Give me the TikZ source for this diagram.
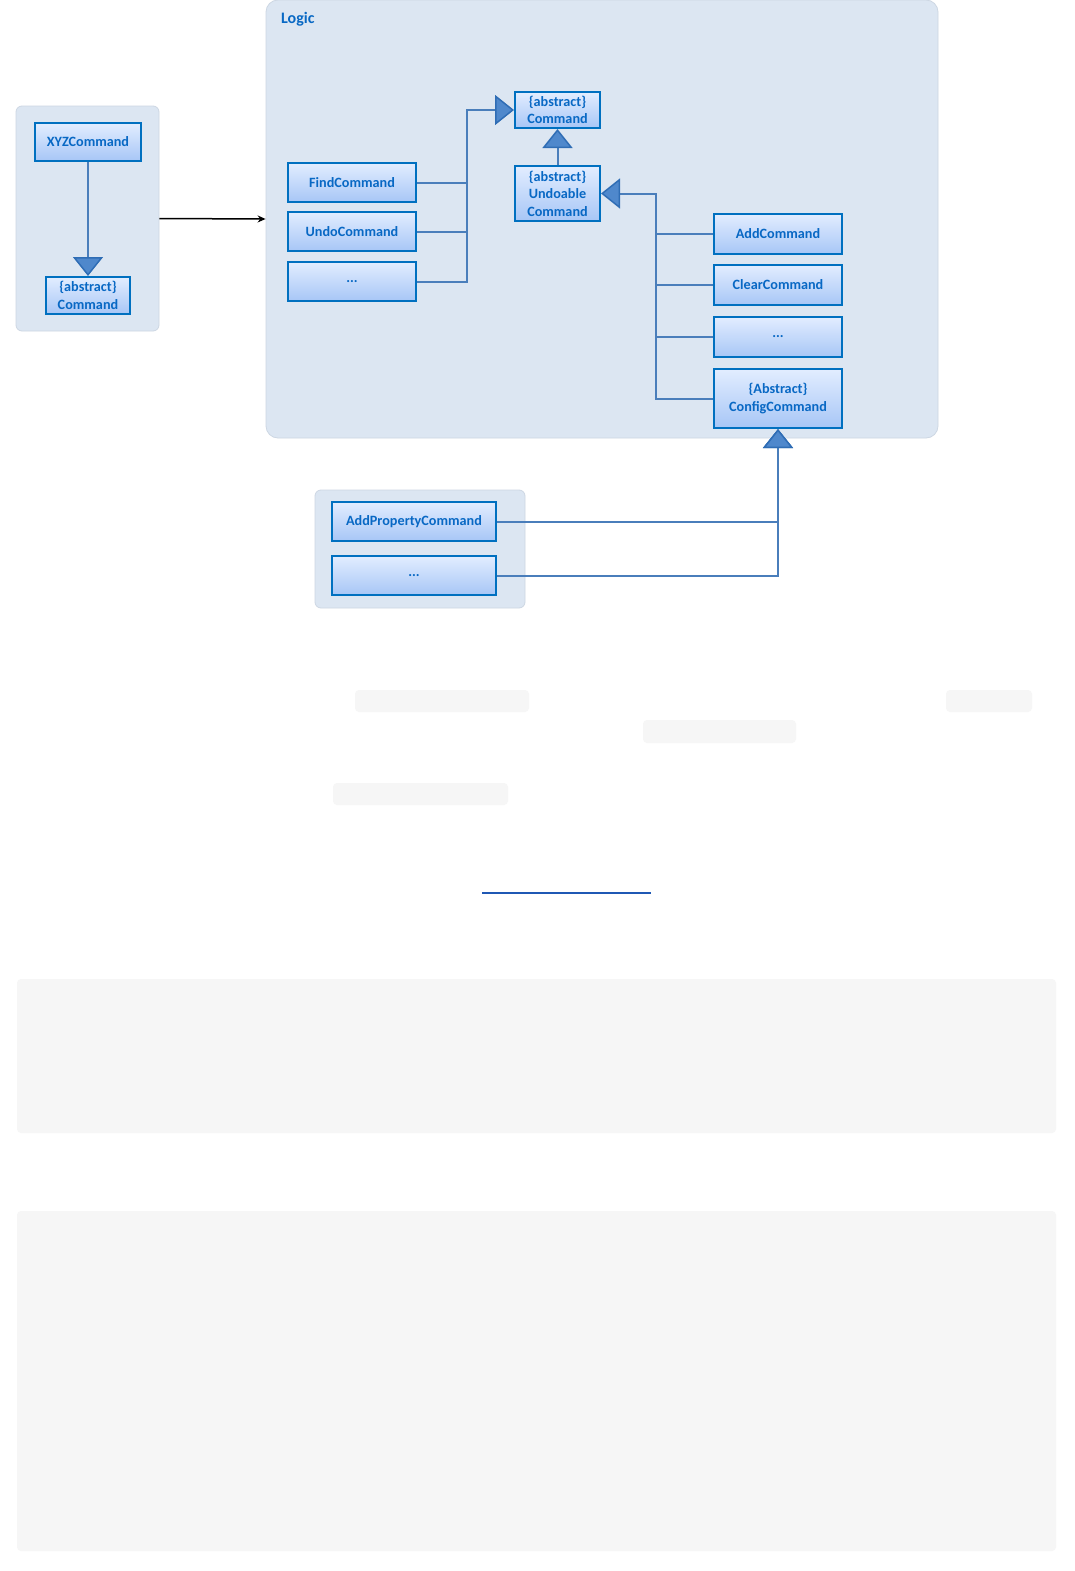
\documentclass[tikz,border=0pt]{standalone}
\usepackage{fontspec}
\setmainfont{Carlito}
\usetikzlibrary{arrows.meta}
\definecolor{pkgfill}{HTML}{DCE6F2}
\definecolor{pkgline}{HTML}{CDD7E3}
\definecolor{boxline}{HTML}{0070C0}
\definecolor{boxtop}{HTML}{E2EDFF}
\definecolor{boxbot}{HTML}{A7C6F6}
\definecolor{txtblue}{HTML}{0868C4}
\definecolor{conn}{HTML}{4A7EBB}
\definecolor{trifill}{HTML}{4F88CC}
\definecolor{triline}{HTML}{2F6DB5}
\definecolor{graybox}{HTML}{F6F6F6}
\definecolor{ulblue}{HTML}{1F58B4}
\tikzset{
  pkg/.style={draw=pkgline, line width=0.8pt, fill=pkgfill, rounded corners=6pt, inner sep=0pt},
  cls/.style={draw=boxline, line width=2pt, top color=boxtop, bottom color=boxbot,
    text=txtblue, font={\fontsize{14.2}{17.5}\selectfont\bfseries}, align=center, inner sep=0pt},
  link/.style={draw=conn, line width=2pt},
  inh/.style={link, -{Triangle[length=19pt, width=30pt, fill=trifill, color=triline, line width=1.5pt]}},
  gbox/.style={fill=graybox, rounded corners=4pt},
}
\begin{document}
\begin{tikzpicture}[x=1pt, y=-1pt]
\path[use as bounding box, fill=white] (0,0) rectangle (1075,1571);

% packages
\node[pkg, minimum width=143pt, minimum height=225pt] (lpkg) at (87.5,218.5) {};
\node[pkg, rounded corners=12pt, minimum width=672pt, minimum height=438pt] (logic) at (602,219) {};
\node[pkg, minimum width=210pt, minimum height=118pt] (bpkg) at (420,549) {};
\node[anchor=west, text=txtblue, font={\fontsize{16}{19}\selectfont\bfseries}, inner sep=0pt] (logiclbl) at (281,19) {Logic};

% left package
\node[cls, minimum width=106pt, minimum height=38pt] (xyz) at (88,142) {XYZCommand};
\node[cls, minimum width=84pt, minimum height=37pt] (lcmd) at (88,295.5) {\{abstract\}\\Command};

% logic package
\node[cls, minimum width=85pt, minimum height=36pt] (cmd) at (557.5,110) {\{abstract\}\\Command};
\node[cls, minimum width=85pt, minimum height=55pt] (ucmd) at (557.5,193.5) {\{abstract\}\\Undoable\\Command};
\node[cls, minimum width=128pt, minimum height=39pt] (find) at (352,182.5) {FindCommand};
\node[cls, minimum width=128pt, minimum height=39pt] (undo) at (352,231.5) {UndoCommand};
\node[cls, minimum width=128pt, minimum height=39pt] (dotsa) at (352,281.5) {...};
\node[cls, minimum width=128pt, minimum height=40pt] (add) at (778,234) {AddCommand};
\node[cls, minimum width=128pt, minimum height=40pt] (clear) at (778,285) {ClearCommand};
\node[cls, minimum width=128pt, minimum height=40pt] (dotsb) at (778,337) {...};
\node[cls, minimum width=128pt, minimum height=59pt] (config) at (778,398.5) {\{Abstract\}\\ConfigCommand};

% bottom package
\node[cls, minimum width=164pt, minimum height=39pt] (addprop) at (414,521.5) {AddPropertyCommand};
\node[cls, minimum width=164pt, minimum height=39pt] (dotsc) at (414,575.5) {...};

% connectors
\draw[line width=1.5pt, -{Stealth[length=8pt, width=7pt]}] (lpkg.east) -- (logic.west);
\draw[inh] (xyz.south) -- (lcmd.north);
\draw[inh] (ucmd.north) -- (cmd.south);
\draw[link] (find.east) -- ++(50,0);
\draw[link] (undo.east) -- ++(50,0);
\draw[inh] (dotsa.east) -- ++(50,0) |- (cmd.west);
\draw[link] (add.west) -- ++(-57,0);
\draw[link] (clear.west) -- ++(-57,0);
\draw[link] (dotsb.west) -- ++(-57,0);
\draw[inh] (config.west) -- ++(-57,0) |- (ucmd.east);
\draw[inh] (addprop.east) -| (config.south);
\draw[inh] (dotsc.east) -| (config.south);

% page remnants below
\fill[gbox] (355,690) rectangle (529,712);
\fill[gbox] (946,690) rectangle (1032,712);
\fill[gbox] (643,720) rectangle (796,743);
\fill[gbox] (333,783) rectangle (508,805);
\coordinate (ula) at (482,893);
\coordinate (ulb) at (651,893);
\draw[ulblue, line width=1.6pt] (ula) -- (ulb);
\fill[gbox] (17,979) rectangle (1056,1133);
\fill[gbox] (17,1211) rectangle (1056,1551);
\end{tikzpicture}
\end{document}
